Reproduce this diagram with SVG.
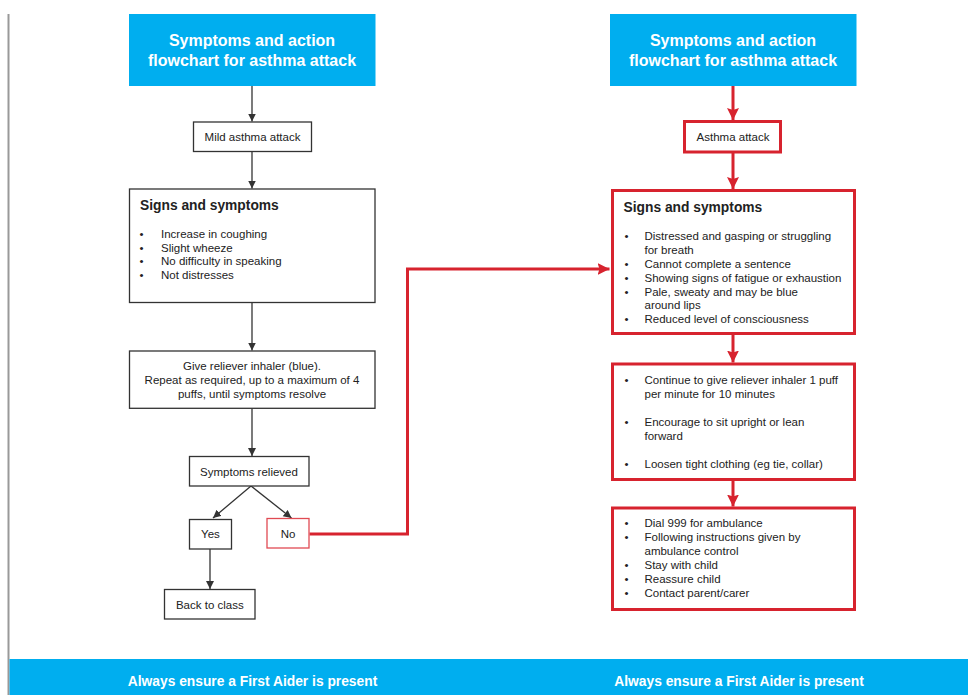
<svg xmlns="http://www.w3.org/2000/svg" width="968" height="695" viewBox="0 0 968 695">
<style>
text{font-family:"Liberation Sans",Arial,sans-serif;fill:#222}
.t{font-size:16px;font-weight:bold;fill:#fff;text-anchor:middle}
.b{font-size:11.5px}
.c{text-anchor:middle}
.h{font-size:13.8px;font-weight:bold}
.f{font-size:13.8px;font-weight:bold;fill:#fff;text-anchor:middle}
.bk{fill:#fff;stroke:#333;stroke-width:1.3}
.rd{fill:#fff;stroke:#d7232e;stroke-width:3}
.bl{fill:#00aeef}
.lk{stroke:#333;stroke-width:1.3;fill:none}
.lr{stroke:#d7232e;stroke-width:3;fill:none}
</style>
<defs>
<marker id="ak" markerUnits="userSpaceOnUse" markerWidth="10" markerHeight="10" refX="8" refY="4" orient="auto">
<path d="M0,0 L8,4 L0,8 Z" fill="#333"/>
</marker>
<marker id="ar" markerUnits="userSpaceOnUse" markerWidth="14" markerHeight="14" refX="12" refY="6" orient="auto">
<path d="M0,0 L12,6 L0,12 L2,6 Z" fill="#d7232e"/>
</marker>
</defs>
<line x1="8.5" y1="14" x2="8.5" y2="695" stroke="#999" stroke-width="2"/>
<rect class="bl" x="9.5" y="659" width="958.5" height="36"/>
<text class="f" x="252.5" y="686">Always ensure a First Aider is present</text>
<text class="f" x="739" y="686">Always ensure a First Aider is present</text>

<g id="connectors">
<line class="lk" x1="252" y1="86" x2="252" y2="121.5" marker-end="url(#ak)"/>
<line class="lk" x1="252" y1="152" x2="252" y2="188.5" marker-end="url(#ak)"/>
<line class="lk" x1="252" y1="303" x2="252" y2="350.5" marker-end="url(#ak)"/>
<line class="lk" x1="252" y1="408.5" x2="252" y2="456" marker-end="url(#ak)"/>
<line class="lk" x1="251" y1="486" x2="213" y2="518" marker-end="url(#ak)"/>
<line class="lk" x1="251" y1="486" x2="291.5" y2="518" marker-end="url(#ak)"/>
<line class="lk" x1="210" y1="549" x2="210" y2="589" marker-end="url(#ak)"/>
<polyline class="lr" points="309.5,534 407.5,534 407.5,269 609.5,269" marker-end="url(#ar)"/>
<line class="lr" x1="733" y1="86" x2="733" y2="120" marker-end="url(#ar)"/>
<line class="lr" x1="733" y1="153" x2="733" y2="189" marker-end="url(#ar)"/>
<line class="lr" x1="733" y1="335" x2="733" y2="362.5" marker-end="url(#ar)"/>
<line class="lr" x1="733" y1="481" x2="733" y2="506.5" marker-end="url(#ar)"/>
</g>

<g id="title-left">
<rect class="bl" x="129" y="14" width="246.5" height="72"/>
<text class="t" x="252" y="45.5">Symptoms and action</text>
<text class="t" x="252" y="65.5">flowchart for asthma attack</text>
</g>
<g id="mild">
<rect class="bk" x="193.5" y="122" width="118" height="29.5"/>
<text class="b c" x="252.5" y="140.8">Mild asthma attack</text>
</g>
<g id="signs-left">
<rect class="bk" x="129.5" y="189" width="245.5" height="113.5"/>
<text class="h" x="140" y="210">Signs and symptoms</text>
<g class="b">
<text x="139.5" y="237.5">•</text><text x="161" y="237.5">Increase in coughing</text>
<text x="139.5" y="251.5">•</text><text x="161" y="251.5">Slight wheeze</text>
<text x="139.5" y="265">•</text><text x="161" y="265">No difficulty in speaking</text>
<text x="139.5" y="279">•</text><text x="161" y="279">Not distresses</text>
</g>
</g>
<g id="give">
<rect class="bk" x="129.5" y="351" width="245.5" height="57.3"/>
<text class="b c" x="252" y="370">Give reliever inhaler (blue).</text>
<text class="b c" x="252" y="384">Repeat as required, up to a maximum of 4</text>
<text class="b c" x="252" y="397.5">puffs, until symptoms resolve</text>
</g>
<g id="relieved">
<rect class="bk" x="189.5" y="456.5" width="119.5" height="29.5"/>
<text class="b c" x="249" y="475.8">Symptoms relieved</text>
</g>
<g id="yes">
<rect class="bk" x="189.5" y="519.5" width="42" height="29.5"/>
<text class="b c" x="210.5" y="537.5">Yes</text>
</g>
<g id="no">
<rect x="267" y="518.5" width="42" height="29.5" fill="#fff" stroke="#e04a53" stroke-width="1.3"/>
<text class="b c" x="288" y="537.5">No</text>
</g>
<g id="back">
<rect class="bk" x="164.5" y="589.5" width="90.5" height="29.5"/>
<text class="b c" x="209.8" y="608.5">Back to class</text>
</g>

<g id="title-right">
<rect class="bl" x="610" y="14" width="246.5" height="72"/>
<text class="t" x="733" y="45.5">Symptoms and action</text>
<text class="t" x="733" y="65.5">flowchart for asthma attack</text>
</g>
<g id="attack">
<rect class="rd" x="684.5" y="121.5" width="96" height="30.5"/>
<text class="b c" x="733" y="140.8">Asthma attack</text>
</g>
<g id="signs-right">
<rect class="rd" x="612.5" y="190.5" width="242" height="143"/>
<text class="h" x="623.5" y="212">Signs and symptoms</text>
<g class="b">
<text x="624.5" y="240">•</text><text x="644.5" y="240">Distressed and gasping or struggling</text>
<text x="644.5" y="253.5">for breath</text>
<text x="624.5" y="267.5">•</text><text x="644.5" y="267.5">Cannot complete a sentence</text>
<text x="624.5" y="281.5">•</text><text x="644.5" y="281.5">Showing signs of fatigue or exhaustion</text>
<text x="624.5" y="295.5">•</text><text x="644.5" y="295.5">Pale, sweaty and may be blue</text>
<text x="644.5" y="309">around lips</text>
<text x="624.5" y="323">•</text><text x="644.5" y="323">Reduced level of consciousness</text>
</g>
</g>
<g id="continue">
<rect class="rd" x="612.5" y="364" width="242" height="115.5"/>
<g class="b">
<text x="624.5" y="384">•</text><text x="644.5" y="384">Continue to give reliever inhaler 1 puff</text>
<text x="644.5" y="397.5">per minute for 10 minutes</text>
<text x="624.5" y="426">•</text><text x="644.5" y="426">Encourage to sit upright or lean</text>
<text x="644.5" y="440">forward</text>
<text x="624.5" y="467.5">•</text><text x="644.5" y="467.5">Loosen tight clothing (eg tie, collar)</text>
</g>
</g>
<g id="dial">
<rect class="rd" x="612.5" y="508" width="242" height="101.5"/>
<g class="b">
<text x="624.5" y="527">•</text><text x="644.5" y="527">Dial 999 for ambulance</text>
<text x="624.5" y="541">•</text><text x="644.5" y="541">Following instructions given by</text>
<text x="644.5" y="555">ambulance control</text>
<text x="624.5" y="568.5">•</text><text x="644.5" y="568.5">Stay with child</text>
<text x="624.5" y="582.5">•</text><text x="644.5" y="582.5">Reassure child</text>
<text x="624.5" y="596.5">•</text><text x="644.5" y="596.5">Contact parent/carer</text>
</g>
</g>
</svg>
